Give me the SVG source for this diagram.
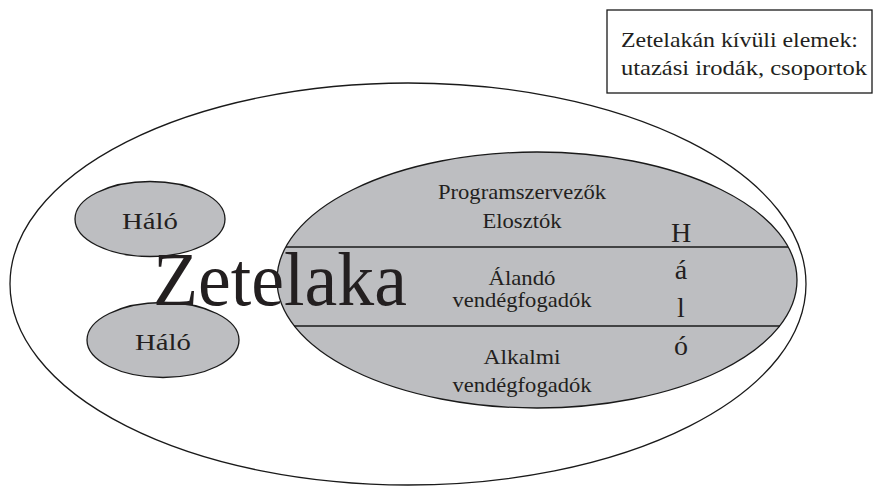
<svg xmlns="http://www.w3.org/2000/svg" width="875" height="486" viewBox="0 0 875 486">
<style>
.sh{stroke:#1a1a1a;stroke-width:1.3}
.g{fill:#bdbec1}
.t{font-family:"Liberation Serif","DejaVu Serif",serif;fill:#231f20}
.c{text-anchor:middle}
.m{font-size:21px}
</style>
<rect width="875" height="486" fill="#ffffff"/>
<g id="outer">
<ellipse class="sh" cx="408" cy="284" rx="398" ry="201" fill="#ffffff"/>
</g>
<g id="halo1">
<ellipse class="sh g" cx="150" cy="219" rx="75" ry="37.5"/>
<text class="t c" x="150" y="229" font-size="24" textLength="56" lengthAdjust="spacingAndGlyphs">Háló</text>
</g>
<g id="halo2">
<ellipse class="sh g" cx="163" cy="340" rx="76" ry="37.5"/>
<text class="t c" x="163" y="350" font-size="24" textLength="56" lengthAdjust="spacingAndGlyphs">Háló</text>
</g>
<g id="core">
<ellipse class="sh g" cx="537" cy="280" rx="260" ry="128"/>
</g>
<g id="connectors">
<line class="sh" x1="286" y1="247" x2="788" y2="247"/>
<line class="sh" x1="294" y1="326" x2="780" y2="326"/>
</g>
<g id="zetelaka">
<text class="t" x="153" y="305" font-size="76" textLength="254" lengthAdjust="spacingAndGlyphs">Zetelaka</text>
</g>
<g id="layer1">
<text class="t c m" x="522" y="199" textLength="168" lengthAdjust="spacingAndGlyphs">Programszervezők</text>
<text class="t c m" x="522" y="228" textLength="79" lengthAdjust="spacingAndGlyphs">Elosztók</text>
</g>
<g id="layer2">
<text class="t c m" x="522" y="285" textLength="67" lengthAdjust="spacingAndGlyphs">Álandó</text>
<text class="t c m" x="522" y="307" textLength="139" lengthAdjust="spacingAndGlyphs">vendégfogadók</text>
</g>
<g id="layer3">
<text class="t c m" x="522" y="364" textLength="77" lengthAdjust="spacingAndGlyphs">Alkalmi</text>
<text class="t c m" x="522" y="392" textLength="139" lengthAdjust="spacingAndGlyphs">vendégfogadók</text>
</g>
<g id="halo-vertical">
<text class="t c" x="681" y="242" font-size="28">H</text>
<text class="t c" x="681" y="279" font-size="28">á</text>
<text class="t c" x="681" y="317" font-size="28">l</text>
<text class="t c" x="681" y="355" font-size="28">ó</text>
</g>
<g id="outside-box">
<rect class="sh" x="607" y="10" width="265" height="83" fill="#ffffff"/>
<text class="t" x="621" y="47" font-size="21" textLength="237" lengthAdjust="spacingAndGlyphs">Zetelakán kívüli elemek:</text>
<text class="t" x="621" y="75" font-size="21" textLength="246" lengthAdjust="spacingAndGlyphs">utazási irodák, csoportok</text>
</g>
</svg>
